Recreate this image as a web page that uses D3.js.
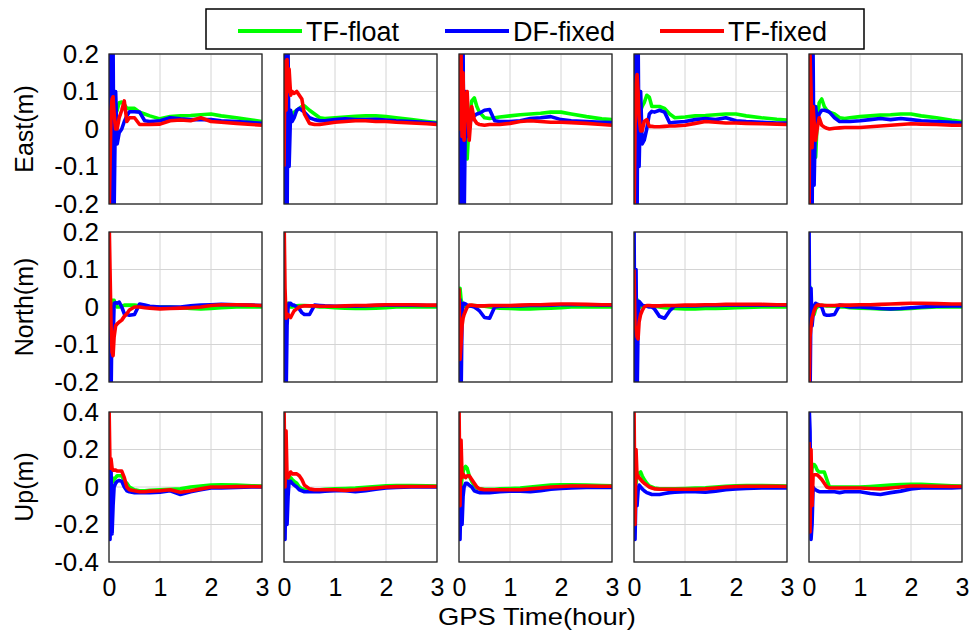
<!DOCTYPE html>
<html>
<head>
<meta charset="utf-8">
<script src="https://d3js.org/d3.v7.min.js"></script>
<style>
  body { margin: 0; background: #fff; }
  svg text { font-family: "Liberation Sans", Arial, sans-serif; fill: #000; }
  .grid line { stroke: #d4d4d4; stroke-width: 1; }
  .frame { fill: none; stroke: #262626; stroke-width: 1.3; }
</style>
</head>
<body>
<svg id="chart" width="969" height="631"></svg>
<script>
// time samples (hours), shared by all the series
const times = [0, 0.02, 0.04, 0.06, 0.08, 0.1, 0.13, 0.16, 0.2, 0.25, 0.3, 0.35, 0.4,
  0.5, 0.6, 0.7, 0.8, 1.0, 1.2, 1.4, 1.6, 1.8, 2.0, 2.2, 2.5, 2.8, 3.0];

const seriesNames = ["TF-float", "DF-fixed", "TF-fixed"];
const seriesColors = ["#00ff00", "#0000ff", "#ff0000"];
const rowLabels = ["East(m)", "North(m)", "Up(m)"];
const enuTicks = [-0.2, -0.1, 0, 0.1, 0.2];
const upTicks = [-0.4, -0.2, 0, 0.2, 0.4];
const hourTicks = [0, 1, 2, 3];

// East, one array per station (5 stations)
const eastFloat = [
  [0.05, -0.05, 0.1, 0.0, 0.05, 0.03, 0.04, 0.05, 0.07, 0.072, 0.065, 0.055, 0.055, 0.055, 0.045, 0.04, 0.035, 0.027, 0.033, 0.035, 0.036, 0.038, 0.04, 0.035, 0.03, 0.024, 0.02],
  [0.05, -0.05, 0.08, 0.0, 0.04, 0.02, 0.03, 0.04, 0.045, 0.05, 0.055, 0.06, 0.062, 0.05, 0.04, 0.03, 0.028, 0.03, 0.032, 0.034, 0.035, 0.035, 0.033, 0.03, 0.025, 0.02, 0.017],
  [0.1, -0.05, 0.1, 0.0, 0.05, 0.0, -0.03, -0.08, 0.02, 0.075, 0.083, 0.06, 0.045, 0.03, 0.028, 0.03, 0.032, 0.035, 0.038, 0.04, 0.042, 0.045, 0.045, 0.04, 0.033, 0.027, 0.025],
  [0.0, 0.1, -0.05, 0.05, 0.0, 0.02, 0.05, 0.06, 0.07, 0.09, 0.085, 0.06, 0.06, 0.06, 0.055, 0.04, 0.03, 0.032, 0.035, 0.036, 0.038, 0.04, 0.04, 0.035, 0.03, 0.026, 0.024],
  [0.1, 0.25, 0.15, 0.1, 0.0, -0.05, -0.075, 0.02, 0.07, 0.08, 0.06, 0.05, 0.045, 0.04, 0.03, 0.028, 0.03, 0.033, 0.035, 0.037, 0.038, 0.04, 0.04, 0.035, 0.03, 0.023, 0.02]
];
const eastDF = [
  [0.25, -0.25, 0.25, -0.25, 0.22, -0.22, 0.1, -0.04, -0.01, 0.0, 0.02, 0.035, 0.046, 0.046, 0.045, 0.022, 0.02, 0.022, 0.03, 0.027, 0.025, 0.025, 0.025, 0.022, 0.02, 0.017, 0.015],
  [0.25, -0.25, 0.25, -0.25, 0.2, -0.1, 0.05, 0.02, 0.03, 0.05, 0.055, 0.05, 0.045, 0.03, 0.025, 0.022, 0.022, 0.025, 0.027, 0.025, 0.025, 0.026, 0.024, 0.022, 0.02, 0.017, 0.015],
  [0.25, -0.25, 0.25, -0.25, 0.22, -0.25, 0.1, -0.02, 0.01, 0.03, 0.035, 0.04, 0.042, 0.05, 0.052, 0.022, 0.02, 0.02, 0.022, 0.028, 0.03, 0.033, 0.025, 0.022, 0.02, 0.018, 0.017],
  [0.25, -0.25, 0.25, -0.25, 0.25, -0.1, 0.1, -0.04, -0.03, 0.0, 0.04, 0.047, 0.045, 0.05, 0.045, 0.016, 0.018, 0.02, 0.025, 0.028, 0.025, 0.03, 0.022, 0.02, 0.018, 0.016, 0.016],
  [0.25, -0.25, 0.25, -0.25, 0.2, -0.15, 0.06, 0.02, 0.04, 0.05, 0.05, 0.048, 0.045, 0.03, 0.02, 0.02, 0.02, 0.022, 0.025, 0.028, 0.025, 0.028, 0.025, 0.022, 0.02, 0.018, 0.016]
];
const eastTF = [
  [-0.25, -0.1, 0.05, 0.08, 0.086, 0.04, 0.0, 0.0, 0.03, 0.05, 0.075, 0.02, 0.03, 0.03, 0.012, 0.012, 0.012, 0.013, 0.022, 0.024, 0.022, 0.03, 0.02, 0.018, 0.015, 0.012, 0.01],
  [-0.1, 0.18, 0.05, 0.185, 0.1, 0.16, 0.09, 0.1, 0.095, 0.1, 0.09, 0.08, 0.04, 0.015, 0.012, 0.012, 0.014, 0.018, 0.02, 0.022, 0.022, 0.02, 0.02, 0.018, 0.016, 0.014, 0.012],
  [0.25, 0.0, 0.2, -0.02, 0.15, -0.03, 0.08, 0.1, -0.03, 0.06, 0.025, 0.015, 0.012, 0.01, 0.012, 0.012, 0.012, 0.015, 0.02, 0.022, 0.02, 0.018, 0.018, 0.017, 0.015, 0.012, 0.01],
  [-0.25, 0.0, 0.12, 0.145, 0.1, 0.03, -0.005, -0.005, 0.02, 0.025, 0.007, 0.007, 0.006, 0.006, 0.007, 0.008, 0.008, 0.01, 0.015, 0.02, 0.018, 0.016, 0.016, 0.015, 0.014, 0.013, 0.012],
  [-0.25, 0.2, 0.1, -0.05, 0.06, 0.02, -0.03, 0.0, 0.03, 0.01, 0.005, 0.002, 0.0, 0.002, 0.003, 0.004, 0.004, 0.004, 0.006, 0.008, 0.01, 0.012, 0.014, 0.013, 0.012, 0.01, 0.01]
];

// North
const northFloat = [
  [0.0, 0.02, -0.02, 0.018, 0.018, 0.018, 0.005, 0.0, 0.0, 0.003, 0.005, 0.005, 0.005, 0.005, 0.003, 0.002, 0.0, 0.0, 0.0, -0.002, -0.004, -0.005, -0.004, -0.002, 0.0, 0.0, 0.0],
  [0.0, 0.02, -0.01, 0.01, 0.01, 0.005, 0.0, 0.0, 0.002, 0.003, 0.004, 0.004, 0.004, 0.003, 0.002, 0.0, 0.0, -0.002, -0.003, -0.004, -0.004, -0.003, -0.002, 0.0, 0.0, 0.0, 0.0],
  [0.0, 0.05, 0.02, 0.01, 0.005, 0.002, 0.0, 0.0, 0.003, 0.004, 0.004, 0.003, 0.003, 0.002, 0.0, -0.002, -0.003, -0.004, -0.005, -0.005, -0.004, -0.003, -0.002, 0.0, 0.0, 0.0, 0.0],
  [0.0, 0.04, 0.0, 0.02, 0.01, 0.005, 0.0, 0.0, 0.002, 0.003, 0.003, 0.003, 0.002, 0.0, -0.002, -0.003, -0.004, -0.005, -0.005, -0.004, -0.004, -0.003, -0.002, -0.001, 0.0, 0.0, 0.0],
  [0.0, 0.053, -0.01, 0.0, -0.01, -0.02, -0.005, 0.0, 0.003, 0.004, 0.004, 0.003, 0.003, 0.002, 0.0, 0.0, -0.002, -0.003, -0.004, -0.005, -0.006, -0.005, -0.004, -0.002, 0.0, 0.0, 0.0]
];
const northDF = [
  [-0.25, 0.01, -0.25, 0.0, -0.1, 0.01, 0.012, 0.01, 0.013, 0.0, -0.018, -0.02, -0.022, -0.02, 0.008, 0.005, 0.002, 0.0, 0.0, 0.0, 0.003, 0.005, 0.006, 0.007, 0.006, 0.005, 0.004],
  [-0.25, 0.02, -0.25, -0.05, 0.0, 0.01, 0.01, 0.005, 0.005, 0.0, -0.005, -0.015, -0.02, -0.02, 0.005, 0.004, 0.003, 0.002, 0.002, 0.002, 0.003, 0.004, 0.005, 0.005, 0.005, 0.004, 0.004],
  [-0.25, 0.02, -0.25, -0.02, 0.01, 0.01, 0.008, 0.005, 0.003, 0.002, 0.0, -0.005, -0.01, -0.028, -0.03, 0.0, 0.002, 0.003, 0.003, 0.004, 0.004, 0.005, 0.006, 0.006, 0.006, 0.005, 0.005],
  [0.25, -0.25, 0.1, -0.25, -0.05, 0.015, 0.01, 0.005, 0.003, 0.002, 0.0, 0.0, -0.005, -0.025, -0.03, -0.01, 0.003, 0.003, 0.003, 0.004, 0.004, 0.005, 0.005, 0.005, 0.005, 0.005, 0.005],
  [0.25, -0.25, 0.05, -0.05, -0.02, 0.0, 0.01, 0.008, 0.005, 0.0, -0.02, -0.022, -0.022, -0.02, 0.005, 0.003, 0.0, 0.0, -0.002, -0.004, -0.005, -0.004, -0.002, 0.0, 0.002, 0.003, 0.003]
];
const northTF = [
  [0.25, 0.1, -0.05, -0.12, -0.13, -0.08, -0.05, -0.045, -0.04, -0.035, -0.025, -0.018, -0.008, 0.0, 0.0, -0.002, -0.003, -0.005, -0.004, -0.003, -0.002, 0.0, 0.004, 0.006, 0.006, 0.005, 0.004],
  [0.25, 0.05, -0.03, -0.025, -0.02, -0.025, -0.028, -0.02, -0.01, -0.005, 0.0, 0.002, 0.003, 0.003, 0.003, 0.002, 0.002, 0.002, 0.003, 0.004, 0.004, 0.005, 0.006, 0.006, 0.006, 0.005, 0.005],
  [0.05, -0.14, -0.1, -0.05, -0.03, -0.02, -0.01, 0.0, 0.005, 0.005, 0.004, 0.003, 0.003, 0.003, 0.004, 0.004, 0.004, 0.004, 0.005, 0.006, 0.006, 0.007, 0.008, 0.008, 0.007, 0.006, 0.006],
  [0.1, -0.05, -0.06, -0.08, -0.085, -0.04, -0.02, -0.01, 0.0, 0.004, 0.004, 0.003, 0.003, 0.003, 0.004, 0.004, 0.004, 0.005, 0.005, 0.006, 0.006, 0.007, 0.007, 0.007, 0.007, 0.006, 0.006],
  [-0.25, -0.08, -0.05, -0.03, -0.02, -0.01, 0.0, 0.005, 0.005, 0.005, 0.004, 0.004, 0.004, 0.004, 0.005, 0.005, 0.005, 0.006, 0.006, 0.007, 0.008, 0.009, 0.01, 0.01, 0.009, 0.008, 0.008]
];

// Up
const upFloat = [
  [0.0, 0.05, -0.05, 0.05, 0.03, 0.04, 0.05, 0.06, 0.06, 0.06, 0.03, 0.02, 0.0, -0.015, -0.02, -0.02, -0.018, -0.015, -0.012, -0.01, 0.0, 0.005, 0.01, 0.012, 0.01, 0.007, 0.005],
  [0.0, 0.05, 0.0, 0.04, 0.03, 0.04, 0.05, 0.04, 0.03, 0.02, 0.0, -0.01, -0.012, -0.015, -0.015, -0.015, -0.012, -0.01, -0.008, -0.006, -0.002, 0.003, 0.006, 0.008, 0.008, 0.006, 0.005],
  [0.0, 0.06, 0.0, 0.05, 0.08, 0.1, 0.11, 0.1, 0.06, 0.03, 0.01, -0.005, -0.01, -0.012, -0.012, -0.012, -0.01, -0.008, -0.005, 0.0, 0.005, 0.01, 0.012, 0.012, 0.01, 0.008, 0.007],
  [0.0, 0.05, 0.02, 0.06, 0.07, 0.075, 0.08, 0.06, 0.04, 0.02, 0.005, 0.0, -0.005, -0.01, -0.01, -0.01, -0.01, -0.008, -0.006, -0.004, 0.0, 0.004, 0.007, 0.008, 0.008, 0.006, 0.005],
  [0.0, 0.05, 0.05, 0.1, 0.12, 0.12, 0.11, 0.09, 0.08, 0.08, 0.08, 0.04, 0.0, 0.0, 0.0, 0.0, 0.0, 0.0, 0.003, 0.007, 0.01, 0.013, 0.015, 0.014, 0.01, 0.007, 0.005]
];
const upDF = [
  [0.18, -0.28, 0.1, -0.25, -0.1, 0.0, 0.02, 0.03, 0.035, 0.03, 0.0, -0.02, -0.025, -0.03, -0.03, -0.03, -0.03, -0.028, -0.02, -0.04, -0.025, -0.015, -0.005, -0.005, -0.003, 0.0, 0.0],
  [0.2, -0.28, 0.1, -0.2, -0.05, 0.03, 0.03, 0.02, 0.01, 0.0, -0.015, -0.02, -0.025, -0.025, -0.025, -0.025, -0.022, -0.02, -0.02, -0.025, -0.02, -0.012, -0.005, -0.003, 0.0, 0.0, 0.0],
  [0.1, -0.28, 0.0, -0.2, -0.05, 0.0, 0.02, 0.02, 0.01, 0.0, -0.02, -0.025, -0.03, -0.03, -0.03, -0.028, -0.025, -0.022, -0.022, -0.025, -0.02, -0.012, -0.008, -0.005, -0.003, -0.003, -0.003],
  [0.1, -0.28, 0.0, -0.1, -0.02, 0.01, 0.0, -0.01, -0.02, -0.03, -0.035, -0.04, -0.04, -0.04, -0.035, -0.03, -0.028, -0.025, -0.025, -0.028, -0.022, -0.015, -0.01, -0.008, -0.005, -0.005, -0.005],
  [0.45, 0.3, -0.28, -0.2, 0.0, -0.01, -0.015, -0.02, -0.025, -0.025, -0.025, -0.025, -0.025, -0.025, -0.03, -0.025, -0.025, -0.025, -0.035, -0.04, -0.03, -0.022, -0.01, -0.005, -0.005, -0.005, -0.003]
];
const upTF = [
  [0.45, 0.1, 0.15, 0.1, 0.09, 0.09, 0.09, 0.085, 0.085, 0.085, 0.05, 0.0, -0.015, -0.02, -0.025, -0.025, -0.022, -0.02, -0.015, -0.028, -0.02, -0.01, 0.0, 0.0, 0.002, 0.003, 0.002],
  [0.45, 0.0, 0.3, 0.05, 0.05, 0.06, 0.08, 0.07, 0.07, 0.07, 0.06, 0.04, 0.01, -0.01, -0.015, -0.015, -0.015, -0.015, -0.018, -0.015, -0.01, -0.005, 0.0, 0.002, 0.003, 0.003, 0.003],
  [0.45, -0.1, 0.25, 0.05, 0.07, 0.06, 0.05, 0.06, 0.06, 0.04, 0.02, 0.0, -0.01, -0.015, -0.015, -0.015, -0.015, -0.015, -0.015, -0.01, -0.005, 0.0, 0.003, 0.005, 0.005, 0.004, 0.004],
  [0.45, -0.2, 0.2, 0.05, 0.06, 0.05, 0.04, 0.03, 0.02, 0.01, 0.0, -0.005, -0.01, -0.012, -0.012, -0.012, -0.012, -0.012, -0.012, -0.01, -0.005, 0.0, 0.003, 0.004, 0.004, 0.004, 0.003],
  [0.24, -0.24, 0.2, -0.1, 0.06, 0.065, 0.065, 0.065, 0.055, 0.04, 0.02, 0.0, -0.005, -0.005, -0.005, -0.005, -0.005, -0.005, -0.008, -0.01, -0.005, 0.0, 0.005, 0.005, 0.004, 0.003, 0.003]
];

const rows = [
  { label: rowLabels[0], ticks: enuTicks, series: [eastFloat, eastDF, eastTF] },
  { label: rowLabels[1], ticks: enuTicks, series: [northFloat, northDF, northTF] },
  { label: rowLabels[2], ticks: upTicks, series: [upFloat, upDF, upTF] }
];

// layout
const svg = d3.select("#chart");
const panelLeft = 109, panelStep = 175, panelW = 153;
const rowTop = [54, 232, 412], panelH = 150;
const fmt = d => (d === 0 ? "0" : String(d));

rows.forEach((row, r) => {
  const y = d3.scaleLinear()
    .domain(d3.extent(row.ticks))
    .range([rowTop[r] + panelH, rowTop[r]]);

  for (let c = 0; c < 5; c++) {
    const x0 = panelLeft + c * panelStep;
    const x = d3.scaleLinear().domain([0, 3]).range([x0, x0 + panelW]);
    const g = svg.append("g");

    // grid
    const grid = g.append("g").attr("class", "grid");
    grid.selectAll("line.h")
      .data(row.ticks)
      .join("line")
      .attr("class", "h")
      .attr("x1", x0).attr("x2", x0 + panelW)
      .attr("y1", d => y(d)).attr("y2", d => y(d));
    grid.selectAll("line.v")
      .data(hourTicks)
      .join("line")
      .attr("class", "v")
      .attr("x1", d => x(d)).attr("x2", d => x(d))
      .attr("y1", rowTop[r]).attr("y2", rowTop[r] + panelH);

    // clip
    const clipId = `clip-${r}-${c}`;
    svg.append("clipPath").attr("id", clipId)
      .append("rect")
      .attr("x", x0).attr("y", rowTop[r])
      .attr("width", panelW).attr("height", panelH);

    const line = d3.line()
      .x((d, i) => x(times[i]))
      .y(d => y(d));

    const lines = g.append("g").attr("clip-path", `url(#${clipId})`);
    row.series.forEach((s, k) => {
      lines.append("path")
        .attr("d", line(s[c]))
        .attr("fill", "none")
        .attr("stroke", seriesColors[k])
        .attr("stroke-width", 3.6)
        .attr("stroke-linejoin", "round");
    });

    g.append("rect")
      .attr("class", "frame")
      .attr("x", x0).attr("y", rowTop[r])
      .attr("width", panelW).attr("height", panelH);

    // y tick labels on first column
    if (c === 0) {
      const ax = g.append("g")
        .attr("transform", `translate(${x0},0)`)
        .call(d3.axisLeft(y).tickValues(row.ticks).tickFormat(fmt).tickSize(0).tickPadding(10));
      ax.select(".domain").remove();
      ax.selectAll("text").attr("font-size", 26).attr("font-family", "Liberation Sans, Arial, sans-serif").attr("fill", "#000");
    }
    // x tick labels on last row
    if (r === 2) {
      const ax = g.append("g")
        .attr("transform", `translate(0,${rowTop[r] + panelH})`)
        .call(d3.axisBottom(x).tickValues(hourTicks).tickFormat(d3.format("d")).tickSize(0).tickPadding(16));
      ax.select(".domain").remove();
      ax.selectAll("text").attr("font-size", 25).attr("font-family", "Liberation Sans, Arial, sans-serif").attr("fill", "#000");
    }
  }

  // row title
  svg.append("text")
    .attr("transform", `translate(33,${rowTop[r] + panelH / 2}) rotate(-90)`)
    .attr("text-anchor", "middle")
    .attr("font-size", 25)
    .text(row.label);
});

// x title (widened to the reference's span without growing its height)
svg.append("text")
  .attr("x", 537).attr("y", 625)
  .attr("text-anchor", "middle")
  .attr("font-size", 24)
  .attr("textLength", 198)
  .attr("lengthAdjust", "spacingAndGlyphs")
  .text("GPS Time(hour)");

// legend
const legend = svg.append("g");
legend.append("rect")
  .attr("x", 206).attr("y", 9).attr("width", 658).attr("height", 40)
  .attr("fill", "#fff").attr("stroke", "#000").attr("stroke-width", 1.5);
const legendX = [238, 445, 660];
seriesNames.forEach((name, k) => {
  legend.append("line")
    .attr("x1", legendX[k]).attr("x2", legendX[k] + 64)
    .attr("y1", 31).attr("y2", 31)
    .attr("stroke", seriesColors[k]).attr("stroke-width", 4);
  legend.append("text")
    .attr("x", legendX[k] + 68).attr("y", 40.5)
    .attr("font-size", 27)
    .text(name);
});
</script>
</body>
</html>
